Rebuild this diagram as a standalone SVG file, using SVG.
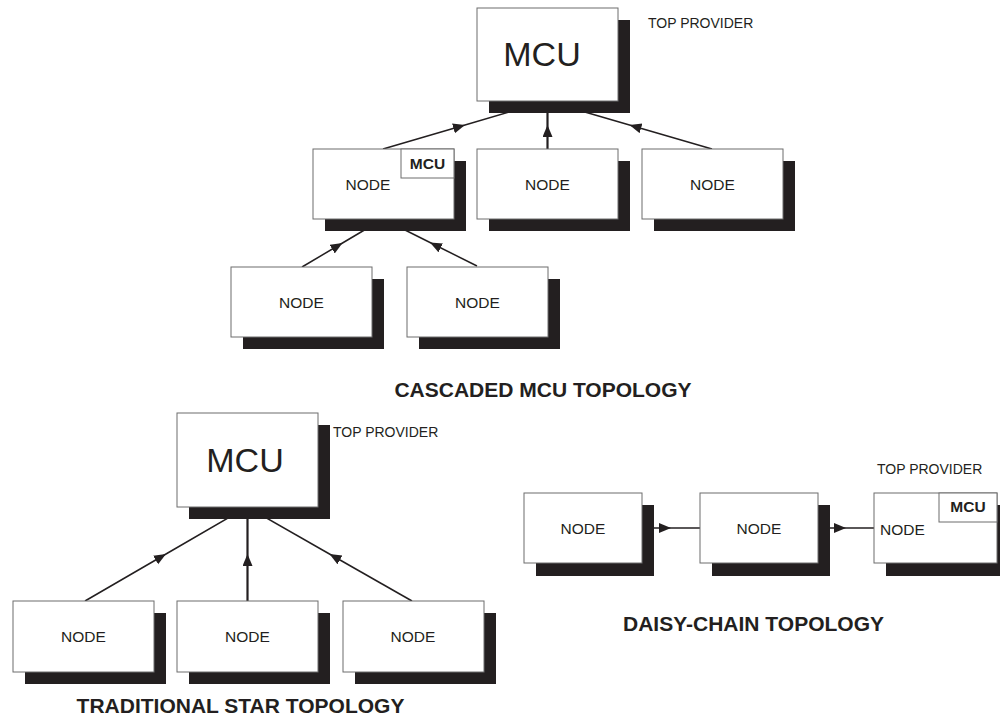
<svg xmlns="http://www.w3.org/2000/svg" width="1000" height="717" viewBox="0 0 1000 717">
<style>
.box{fill:#fff;stroke:#6d6d6d;stroke-width:1}
.sh{fill:#231f20}
.t{font-family:"Liberation Sans",Arial,sans-serif;fill:#231f20}
.node{font-size:15.5px;text-anchor:middle}
.big{font-size:34px;text-anchor:middle}
.tp{font-size:14px}
.mcu{font-size:15.5px;font-weight:bold;text-anchor:middle}
.title{font-size:21px;font-weight:bold;text-anchor:middle}
.c{fill:none;stroke:#231f20;stroke-width:1.5;marker-mid:url(#ah)}
.v{stroke-width:2.2}
</style>
<defs>
<marker id="ah" markerUnits="userSpaceOnUse" markerWidth="14" markerHeight="12" refX="12" refY="5" orient="auto">
<path d="M0,0 L12,5 L0,10 z" fill="#231f20"/>
</marker>
</defs>
<rect width="1000" height="717" fill="#fff"/>
<g id="connectors">
<path class="c" d="M383,149 L465,125 L547,101"/>
<path class="c v" d="M547.5,149 L547.5,125 L547.5,101"/>
<path class="c" d="M712,149 L629.5,125 L547,101"/>
<path class="c" d="M302,267 L342.5,243 L383,219"/>
<path class="c" d="M477,266 L430,242.5 L383,219"/>
<path class="c" d="M85,601 L166,554 L247,507"/>
<path class="c v" d="M247.5,601 L247.5,554 L247.5,507"/>
<path class="c" d="M412,601 L329.5,554 L247,507"/>
<path class="c" d="M642,528 L671,528 L700,528"/>
<path class="c" d="M818,528 L846,528 L874,528"/>
</g>
<g id="cascade-mcu">
<rect class="sh" x="489" y="20" width="141" height="93"/>
<rect class="box" x="477" y="8" width="141" height="93"/>
<text class="t big" x="542" y="66">MCU</text>
<text class="t tp" x="648" y="28">TOP PROVIDER</text>
</g>
<g id="cascade-node1">
<rect class="sh" x="325" y="161" width="141" height="70"/>
<rect class="box" x="313" y="149" width="141" height="70"/>
<rect class="box" x="401" y="149" width="53" height="29"/>
<text class="t mcu" x="427.5" y="169">MCU</text>
<text class="t node" x="368" y="190">NODE</text>
</g>
<g id="cascade-node2">
<rect class="sh" x="489" y="161" width="141" height="70"/>
<rect class="box" x="477" y="149" width="141" height="70"/>
<text class="t node" x="547.5" y="190">NODE</text>
</g>
<g id="cascade-node3">
<rect class="sh" x="654" y="161" width="141" height="70"/>
<rect class="box" x="642" y="149" width="141" height="70"/>
<text class="t node" x="712.5" y="190">NODE</text>
</g>
<g id="cascade-node4">
<rect class="sh" x="243" y="279" width="141" height="70"/>
<rect class="box" x="231" y="267" width="141" height="70"/>
<text class="t node" x="301.5" y="308">NODE</text>
</g>
<g id="cascade-node5">
<rect class="sh" x="419" y="279" width="141" height="70"/>
<rect class="box" x="407" y="267" width="141" height="70"/>
<text class="t node" x="477.5" y="308">NODE</text>
</g>
<text id="cascade-title" class="t title" x="543" y="397">CASCADED MCU TOPOLOGY</text>
<g id="star-mcu">
<rect class="sh" x="189" y="425" width="141" height="94"/>
<rect class="box" x="177" y="413" width="141" height="94"/>
<text class="t big" x="245" y="472">MCU</text>
<text class="t tp" x="333" y="437">TOP PROVIDER</text>
</g>
<g id="star-node1">
<rect class="sh" x="25" y="613" width="141" height="71"/>
<rect class="box" x="13" y="601" width="141" height="71"/>
<text class="t node" x="83.5" y="642">NODE</text>
</g>
<g id="star-node2">
<rect class="sh" x="189" y="613" width="141" height="71"/>
<rect class="box" x="177" y="601" width="141" height="71"/>
<text class="t node" x="247.5" y="642">NODE</text>
</g>
<g id="star-node3">
<rect class="sh" x="355" y="613" width="141" height="71"/>
<rect class="box" x="343" y="601" width="141" height="71"/>
<text class="t node" x="413" y="642">NODE</text>
</g>
<text id="star-title" class="t title" x="240.5" y="713">TRADITIONAL STAR TOPOLOGY</text>
<g id="daisy-node1">
<rect class="sh" x="536" y="505" width="118" height="71"/>
<rect class="box" x="524" y="493" width="118" height="70"/>
<text class="t node" x="583" y="534">NODE</text>
</g>
<g id="daisy-node2">
<rect class="sh" x="712" y="505" width="118" height="71"/>
<rect class="box" x="700" y="493" width="118" height="70"/>
<text class="t node" x="759" y="534">NODE</text>
</g>
<g id="daisy-node3">
<rect class="sh" x="886" y="505" width="123" height="71"/>
<rect class="box" x="874" y="493" width="123" height="70"/>
<rect class="box" x="939" y="493" width="58" height="29"/>
<text class="t mcu" x="968" y="512">MCU</text>
<text class="t node" x="880" y="535" style="text-anchor:start">NODE</text>
<text class="t tp" x="877" y="474">TOP PROVIDER</text>
</g>
<text id="daisy-title" class="t title" x="753.5" y="631">DAISY-CHAIN TOPOLOGY</text>
</svg>
